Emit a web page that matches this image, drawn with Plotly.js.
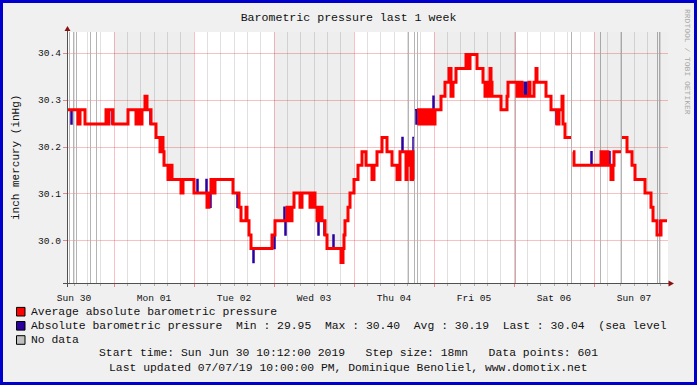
<!DOCTYPE html>
<html>
<head>
<meta charset="utf-8">
<script src="https://cdn.plot.ly/plotly-3.0.1.min.js"></script>
<style>
  html, body { margin:0; padding:0; background:#f0f0f0; }
  #wrap { position:relative; width:697px; height:385px; }
  #chart { width:697px; height:385px; }
  #frame { position:absolute; left:0; top:0; width:697px; height:385px; box-sizing:border-box;
           border:3px solid #0000cc; pointer-events:none; }
</style>
</head>
<body>
<div id="wrap"><div id="chart"></div><div id="frame"></div></div>
<script>
// ---- data (step index = 18 minutes from start time) ----
const startTime = '2019-06-30 10:12:00';
const stepMinutes = 18;
const lastStep = 600;

// Average absolute barometric pressure: value changes at step index
const avgIdx = [0,10,12,17,38,40,41,45,60,68,70,73,74,77,79,83,88,92,94,95,96,100,102,104,113,115,126,139,141,143,145,147,165,171,173,178,179,181,183,204,207,219,222,224,226,232,234,242,244,247,249,252,254,257,259,273,275,276,277,280,282,286,290,294,298,304,306,309,314,319,324,329,332,338,339,341,343,344,345,346,349,351,354,356,359,361,363,364,367,373,377,381,383,385,388,398,400,402,409,415,417,419,421,422,423,424,433,439,440,449,451,454,461,462,466,468,469,478,483,489,491,494,495,497,503,505,506,533,535,536,538,539,540,543,545,546,553,554,559,564,567,577,583,585,589,593,599];
const avgVal = [30.279,30.249,30.279,30.249,30.279,30.249,30.279,30.249,30.279,30.249,30.279,30.249,30.279,30.308,30.279,30.249,30.220,30.190,30.220,30.190,30.161,30.131,30.161,30.131,30.102,30.131,30.102,30.072,30.102,30.131,30.102,30.131,30.102,30.072,30.043,30.072,30.043,30.013,29.984,30.013,30.043,30.072,30.043,30.072,30.102,30.072,30.102,30.072,30.102,30.072,30.043,30.072,30.043,30.013,29.984,29.954,29.984,30.013,30.043,30.072,30.102,30.131,30.161,30.190,30.161,30.131,30.161,30.190,30.220,30.190,30.161,30.131,30.190,30.131,30.190,30.161,30.131,30.190,30.131,null,30.279,30.249,30.279,30.249,30.279,30.249,30.279,30.249,30.279,30.308,30.338,30.367,30.308,30.338,30.367,30.397,30.367,30.397,30.367,30.338,30.308,30.338,30.308,30.367,30.338,30.308,30.279,30.308,30.338,30.308,30.338,30.308,30.338,30.308,30.338,30.367,30.338,30.308,30.279,30.249,30.279,30.308,30.249,30.220,null,30.190,30.161,30.190,30.161,30.190,30.161,30.190,30.161,30.131,30.161,30.190,null,30.220,30.190,30.161,30.131,30.102,30.072,30.043,30.013,30.043,30.043];

// Absolute barometric pressure (raw): value changes at step index
const rawIdx = [0,3,4,10,12,17,38,40,41,44,60,68,70,73,74,77,79,82,88,92,94,95,96,100,102,104,113,115,126,129,130,138,139,141,142,143,145,147,165,169,170,171,173,178,179,181,183,185,186,204,206,207,216,217,218,219,222,224,226,232,234,242,244,247,249,250,251,252,254,256,259,265,266,273,275,276,277,280,282,286,290,294,298,304,306,309,314,319,324,329,332,334,335,338,339,341,342,343,344,345,346,347,348,349,351,352,353,354,356,357,358,359,361,362,364,365,366,367,373,377,381,383,385,388,398,400,402,409,415,417,419,421,422,423,424,433,439,440,449,451,454,456,457,458,459,461,462,466,468,469,478,483,488,491,494,495,497,503,505,506,523,524,533,535,536,538,539,540,541,542,543,544,546,553,554,559,564,567,577,583,585,589,592,599];
const rawVal = [30.279,30.249,30.279,30.249,30.279,30.249,30.279,30.249,30.279,30.249,30.279,30.249,30.279,30.249,30.279,30.308,30.279,30.249,30.220,30.190,30.220,30.190,30.161,30.131,30.161,30.131,30.102,30.131,30.102,30.131,30.102,30.131,30.072,30.102,30.072,30.131,30.102,30.131,30.102,30.072,30.102,30.072,30.043,30.072,30.043,30.013,29.984,29.954,29.984,30.013,29.984,30.043,30.072,30.013,30.043,30.072,30.043,30.072,30.102,30.072,30.102,30.072,30.102,30.072,30.043,30.013,30.043,30.072,30.043,30.013,29.984,30.013,29.984,29.954,29.984,30.013,30.043,30.072,30.102,30.131,30.161,30.190,30.161,30.131,30.161,30.190,30.220,30.190,30.161,30.131,30.190,30.220,30.190,30.131,30.190,30.161,30.190,30.131,30.190,30.220,null,30.279,30.249,30.279,30.249,30.279,30.249,30.279,30.249,30.279,30.249,30.279,30.249,30.279,30.249,30.308,30.249,30.279,30.308,30.338,30.367,30.308,30.338,30.367,30.397,30.367,30.397,30.367,30.338,30.308,30.338,30.308,30.367,30.338,30.308,30.279,30.308,30.338,30.308,30.338,30.308,30.338,30.308,30.338,30.308,30.338,30.308,30.338,30.367,30.338,30.308,30.279,30.249,30.279,30.308,30.249,30.220,null,30.190,30.161,30.190,30.161,30.190,30.161,30.190,30.161,30.190,30.161,30.190,30.161,30.131,30.161,30.190,null,30.220,30.190,30.161,30.131,30.102,30.072,30.043,30.013,30.043,30.043];

// Steps with no data
const noDataIdx = [1,5,8,22,28,340,346,349,447,503,532,553,589,591];

// Alternate-day shading (step index ranges: Mon 01, Wed 03, Fri 05, Sun 07)
const shadeStart = [46,206,366,526];
const shadeEnd   = [126,286,446,600];

const legendNames = ['Average absolute barometric pressure',
  'Absolute barometric pressure  Min : 29.95  Max : 30.40  Avg : 30.19  Last : 30.04  (sea level',
  'No data'];
const footerLines = ['Start time: Sun Jun 30 10:12:00 2019   Step size: 18mn   Data points: 601',
  'Last updated 07/07/19 10:00:00 PM, Dominique Benoliel, www.domotix.net'];

// ---- helpers ----
const START_MS = Date.parse(startTime.replace(' ', 'T') + 'Z');
const STEP_MS = stepMinutes * 60000;
function t(i) { return new Date(START_MS + i * STEP_MS).toISOString().slice(0, 19).replace('T', ' '); }
const yRange = [29.9106, 30.4447];

function stepSeries(idx, val) {
  const xs = [], ys = [];
  let prev = null;
  for (let k = 0; k < idx.length; k++) {
    const v = val[k];
    if (v === null) {
      if (prev !== null) { xs.push(t(idx[k])); ys.push(prev); }
      xs.push(t(idx[k])); ys.push(null);
    } else { xs.push(t(idx[k])); ys.push(v); }
    prev = v;
  }
  return {x: xs, y: ys};
}
function valueAt(idx, val, i) {
  let v = null;
  for (let k = 0; k < idx.length && idx[k] <= i; k++) { if (val[k] !== null) v = val[k]; }
  return v;
}

const traces = [];
// no-data bars
traces.push({
  type: 'bar', x: noDataIdx.map(t), y: noDataIdx.map(() => yRange[1] - yRange[0]),
  base: yRange[0], width: noDataIdx.map(() => STEP_MS), offset: 0,
  marker: {color: '#b4b4b4', line: {width: 0}}, hoverinfo: 'skip', showlegend: false
});
// shading above the curve on alternate days
for (let d = 0; d < shadeStart.length; d++) {
  const xs = [], lo = [], hi = [];
  for (let i = shadeStart[d]; i <= shadeEnd[d]; i++) {
    xs.push(t(i)); lo.push(valueAt(avgIdx, avgVal, i)); hi.push(yRange[1]);
  }
  traces.push({type: 'scatter', mode: 'lines', x: xs, y: lo, line: {width: 0, shape: 'hv'},
    hoverinfo: 'skip', showlegend: false});
  traces.push({type: 'scatter', mode: 'lines', x: xs, y: hi, line: {width: 0, shape: 'hv'},
    fill: 'tonexty', fillcolor: 'rgba(0,0,0,0.068)', hoverinfo: 'skip', showlegend: false});
}
const raw = stepSeries(rawIdx, rawVal);
traces.push({type: 'scatter', mode: 'lines', x: raw.x, y: raw.y,
  line: {color: '#2a00a0', width: 1.5, shape: 'hv'}, connectgaps: false, showlegend: false});
const avg = stepSeries(avgIdx, avgVal);
traces.push({type: 'scatter', mode: 'lines', x: avg.x, y: avg.y,
  line: {color: '#ff0000', width: 3, shape: 'hv'}, connectgaps: false, showlegend: false});

// pixel -> paper coordinates (plot area x 68..668, y 32..283)
const PL = 68, PR = 668, PT = 32, PB = 283;
function px(x) { return (x - PL) / (PR - PL); }
function py(y) { return (PB - y) / (PB - PT); }

const FONT = 'Liberation Mono, Courier New, monospace';
const shapes = [];
const annotations = [];
// axis lines and arrows
shapes.push({type: 'line', xref: 'paper', yref: 'paper', x0: px(67.5), x1: px(67.5), y0: py(29), y1: py(287),
  line: {color: '#505050', width: 1}});
shapes.push({type: 'line', xref: 'paper', yref: 'paper', x0: px(63), x1: px(669), y0: py(283.5), y1: py(283.5),
  line: {color: '#505050', width: 1}});
shapes.push({type: 'path', xref: 'paper', yref: 'paper', fillcolor: '#8b1010', line: {width: 0},
  path: `M ${px(64.5)} ${py(31)} L ${px(70.5)} ${py(31)} L ${px(67.5)} ${py(26)} Z`});
shapes.push({type: 'path', xref: 'paper', yref: 'paper', fillcolor: '#8b1010', line: {width: 0},
  path: `M ${px(668.5)} ${py(280.5)} L ${px(668.5)} ${py(286.5)} L ${px(674)} ${py(283.5)} Z`});

// legend boxes + text
const legendColors = ['#ff0000', '#2a00a0', '#c0c0c0'];
const rowY = [311.7, 325.8, 340];
for (let r = 0; r < 3; r++) {
  shapes.push({type: 'rect', xref: 'paper', yref: 'paper', x0: px(16.5), x1: px(25), y0: py(rowY[r] - 4.3), y1: py(rowY[r] + 4.3),
    fillcolor: legendColors[r], line: {color: '#000', width: 1}});
  annotations.push({xref: 'paper', yref: 'paper', x: px(28.5), y: py(rowY[r]), xanchor: 'left', yanchor: 'middle',
    text: legendNames[r], showarrow: false, font: {family: FONT, size: 11.4, color: '#111'}});
}
const footY = [353.3, 367.7];
for (let r = 0; r < 2; r++) {
  annotations.push({xref: 'paper', yref: 'paper', x: px(348.5), y: py(footY[r]), xanchor: 'center', yanchor: 'middle',
    text: footerLines[r], showarrow: false, font: {family: FONT, size: 11.4, color: '#111'}});
}
// y-axis title
annotations.push({xref: 'paper', yref: 'paper', x: px(15.5), y: 0.5, xanchor: 'center', yanchor: 'middle',
  text: 'inch mercury (inHg)', textangle: -90, showarrow: false, font: {family: FONT, size: 11, color: '#111'}});
// vertical watermark
annotations.push({xref: 'paper', yref: 'paper', x: px(688), y: py(62), xanchor: 'center', yanchor: 'middle',
  text: 'RRDTOOL / TOBI OETIKER', textangle: 90, showarrow: false, font: {family: FONT, size: 8, color: '#a8a8a8'}});

const redGrid = 'rgba(230,0,0,0.24)';
const layout = {
  width: 697, height: 385,
  margin: {l: PL, r: 697 - PR, t: PT, b: 385 - PB, pad: 0},
  paper_bgcolor: '#f0f0f0', plot_bgcolor: '#ffffff',
  showlegend: false, barmode: 'overlay',
  font: {family: FONT, size: 9.6, color: '#111'},
  title: {text: 'Barometric pressure last 1 week', font: {family: FONT, size: 11.6, color: '#111'},
    x: 0.5, xanchor: 'center', y: 1 - 17 / 385, yanchor: 'middle', yref: 'container'},
  xaxis: {
    type: 'date', range: [t(0), t(lastStep)], tick0: '2019-06-30 00:00:00', dtick: 86400000,
    tickformat: '%a %d', ticklabelmode: 'period',
    showgrid: true, gridcolor: redGrid, gridwidth: 1, zeroline: false, showline: false,
    ticks: 'outside', ticklen: 3, tickcolor: 'rgba(230,0,0,0.45)', ticklabelstandoff: 2,
    minor: {dtick: 14400000, showgrid: true, gridcolor: 'rgba(0,0,0,0.12)', gridwidth: 1,
      ticks: 'outside', ticklen: 2, tickcolor: '#b0b0b0'},
    tickfont: {family: FONT, size: 9.6, color: '#111'}, fixedrange: true
  },
  yaxis: {
    range: yRange, tick0: 30, dtick: 0.1, tickformat: '.1f',
    showgrid: true, gridcolor: redGrid, gridwidth: 1, zeroline: false, showline: false,
    ticks: 'outside', ticklen: 4, tickcolor: 'rgba(230,0,0,0.45)',
    tickfont: {family: FONT, size: 9.6, color: '#111'}, fixedrange: true
  },
  shapes: shapes, annotations: annotations
};
Plotly.newPlot('chart', traces, layout, {staticPlot: true, displayModeBar: false});
</script>
</body>
</html>
